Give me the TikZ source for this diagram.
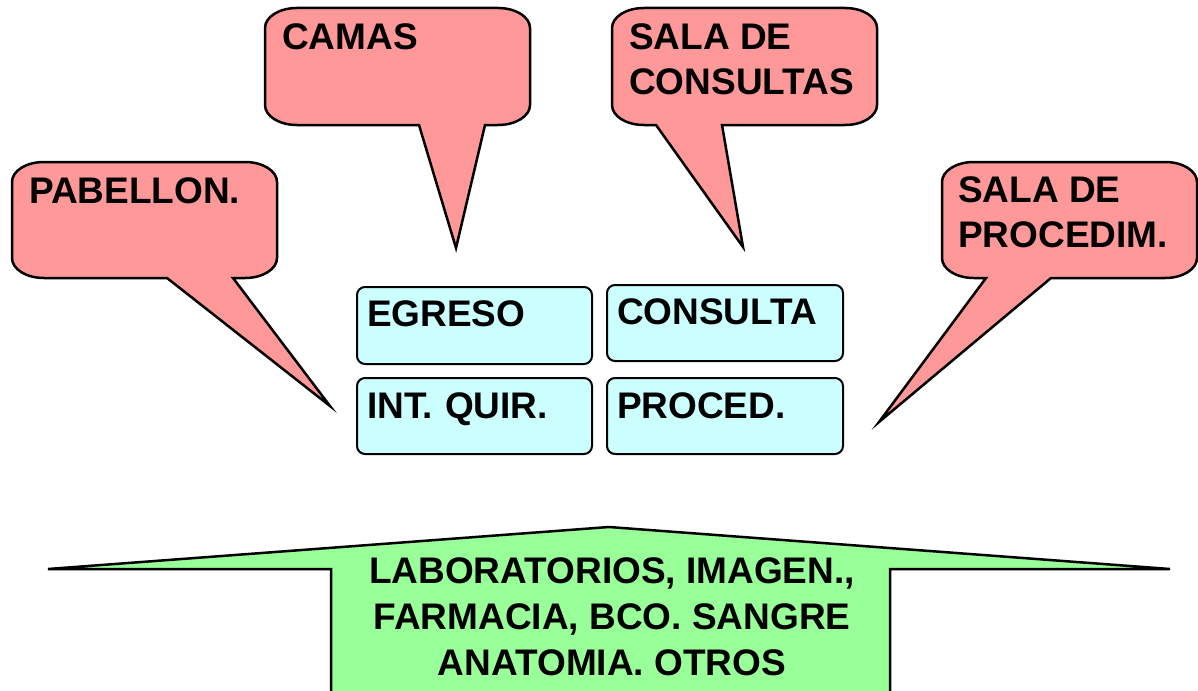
\documentclass[tikz,border=0pt]{standalone}
\usepackage{fontspec}
\setmainfont{Liberation Sans}
\definecolor{pinkfill}{HTML}{FF9999}
\definecolor{cyanfill}{HTML}{CCFFFF}
\definecolor{greenfill}{HTML}{99FF99}
\newcommand\calloutshape[8]{%
  \filldraw[callout] ({#1+32},#2) -- ({#3-32},#2)
    .. controls ({#3-14},#2) and (#3,{#2+9}) .. (#3,{#2+20})
    -- (#3,{#4-20})
    .. controls (#3,{#4-9}) and ({#3-14},#4) .. ({#3-32},#4)
    -- (#6,#4) -- (#7,#8) -- (#5,#4) -- ({#1+32},#4)
    .. controls ({#1+14},#4) and (#1,{#4-9}) .. (#1,{#4-20})
    -- (#1,{#2+20})
    .. controls (#1,{#2+9}) and ({#1+14},#2) .. cycle;}
\begin{document}
\begin{tikzpicture}[x=1pt,y=-1pt,
  callout/.style={fill=pinkfill,draw=black,line width=2.5pt},
  callouttext/.style={inner sep=0pt,align=left,font=\fontsize{37}{45}\selectfont\bfseries},
  bluebox/.style={fill=cyanfill,draw=black,line width=2pt,rounded corners=8pt,
    anchor=north west,inner xsep=10pt,inner ysep=0pt,align=left,
    font=\fontsize{37}{44}\selectfont\bfseries},
  arrowshape/.style={fill=greenfill,draw=black,line width=2.5pt,line join=miter},
  arrowtext/.style={inner sep=0pt,align=center,font=\fontsize{37}{46}\selectfont\bfseries}]
\useasboundingbox (0,0) rectangle (1198,690);

% callouts
\calloutshape{12}{162}{277}{278}{167}{233}{330}{406}
\calloutshape{265}{8}{530}{125}{419}{485}{456}{248}
\calloutshape{612}{8}{877}{125}{656}{722}{743}{247}
\calloutshape{942}{162}{1197}{278}{986}{1051}{879}{422}

\node[callouttext,anchor=base west] (pabellon) at (29,203) {PABELLON.};
\node[callouttext,anchor=base west] (camas) at (282,50) {CAMAS};
\node[callouttext,anchor=north west] (salacons) at (629,23) {SALA DE\\CONSULTAS};
\node[callouttext,anchor=north west] (salaproc) at (958,176) {SALA DE\\PROCEDIM.};

% blue boxes
\node[bluebox,text width=215pt,text height=39pt,text depth=38pt] (egreso) at (356,286) {EGRESO};
\node[bluebox,text width=216pt,text height=39pt,text depth=37pt] (consulta) at (606,284) {CONSULTA};
\node[bluebox,text width=215pt,text height=40pt,text depth=36pt] (intquir) at (356,377) {INT. QUIR.};
\node[bluebox,text width=216pt,text height=40pt,text depth=36pt] (proced) at (606,377) {PROCED.};

% bottom arrow
\filldraw[arrowshape] (48,569) -- (331,569) -- (331,694) -- (890,694) -- (890,569) -- (1170,569) -- (609,527) -- cycle;
\node[arrowtext,anchor=north] (servicios) at (612,557) {LABORATORIOS, IMAGEN.,\\FARMACIA, BCO. SANGRE\\ANATOMIA. OTROS};
\end{tikzpicture}
\end{document}
